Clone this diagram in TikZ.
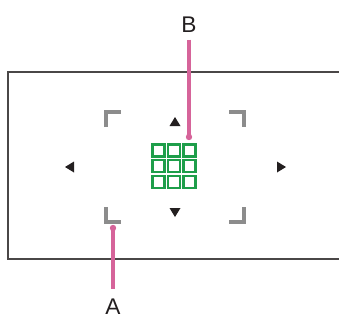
\documentclass[tikz,border=0pt]{standalone}
\usepackage{fontspec}
\setmainfont{Liberation Sans}
\definecolor{framec}{HTML}{4A4747}
\definecolor{brk}{HTML}{8C8C8C}
\definecolor{pinkc}{HTML}{D6649A}
\definecolor{gridc}{HTML}{1E9E4A}
\definecolor{tri}{HTML}{231F20}
\begin{document}
\begin{tikzpicture}[x=0.75pt,y=-0.75pt,
  frame/.style={draw=framec,line width=1.5pt},
  bracket/.style={draw=brk,line width=2.8pt,line cap=butt},
  leader/.style={draw=pinkc,line width=2.6pt},
  dotc/.style={fill=pinkc},
  cell/.style={draw=gridc,line width=1.6pt},
  arr/.style={fill=tri},
  lbl/.style={font=\fontsize{17}{17}\selectfont,text=tri,inner sep=0pt}]
\useasboundingbox (0,0) rectangle (339,322);
\draw[frame] (8,72) rectangle (339.5,259);
% brackets
\draw[bracket] (106,127) -- (106,112) -- (121,112);
\draw[bracket] (229,112) -- (244,112) -- (244,127);
\draw[bracket] (106,207) -- (106,222) -- (121,222);
\draw[bracket] (229,222) -- (244,222) -- (244,207);
% triangles
\fill[arr] (169.5,126) -- (180.5,126) -- (175,117) -- cycle;
\fill[arr] (169.5,208) -- (180.5,208) -- (175,217) -- cycle;
\fill[arr] (74,161.5) -- (74,172.5) -- (65,167) -- cycle;
\fill[arr] (277,161.5) -- (277,172.5) -- (286,167) -- cycle;
% grid
\foreach \i in {0,1,2}{
  \foreach \j in {0,1,2}{
    \draw[cell] ({152.5+\i*15.5},{144.5+\j*15.8}) rectangle ++(12,12);
  }
}
% labels and leaders
\node[lbl] (B) at (189,25) {B};
\node[lbl] (A) at (113,307) {A};
\coordinate (bend) at (189,137);
\coordinate (aend) at (113,228);
\draw[leader,shorten <=5pt] (B.south) -- (bend);
\fill[dotc] (bend) circle (3.2);
\draw[leader,shorten >=7.5pt] (aend) -- (A.north);
\fill[dotc] (aend) circle (3.2);
\end{tikzpicture}
\end{document}
